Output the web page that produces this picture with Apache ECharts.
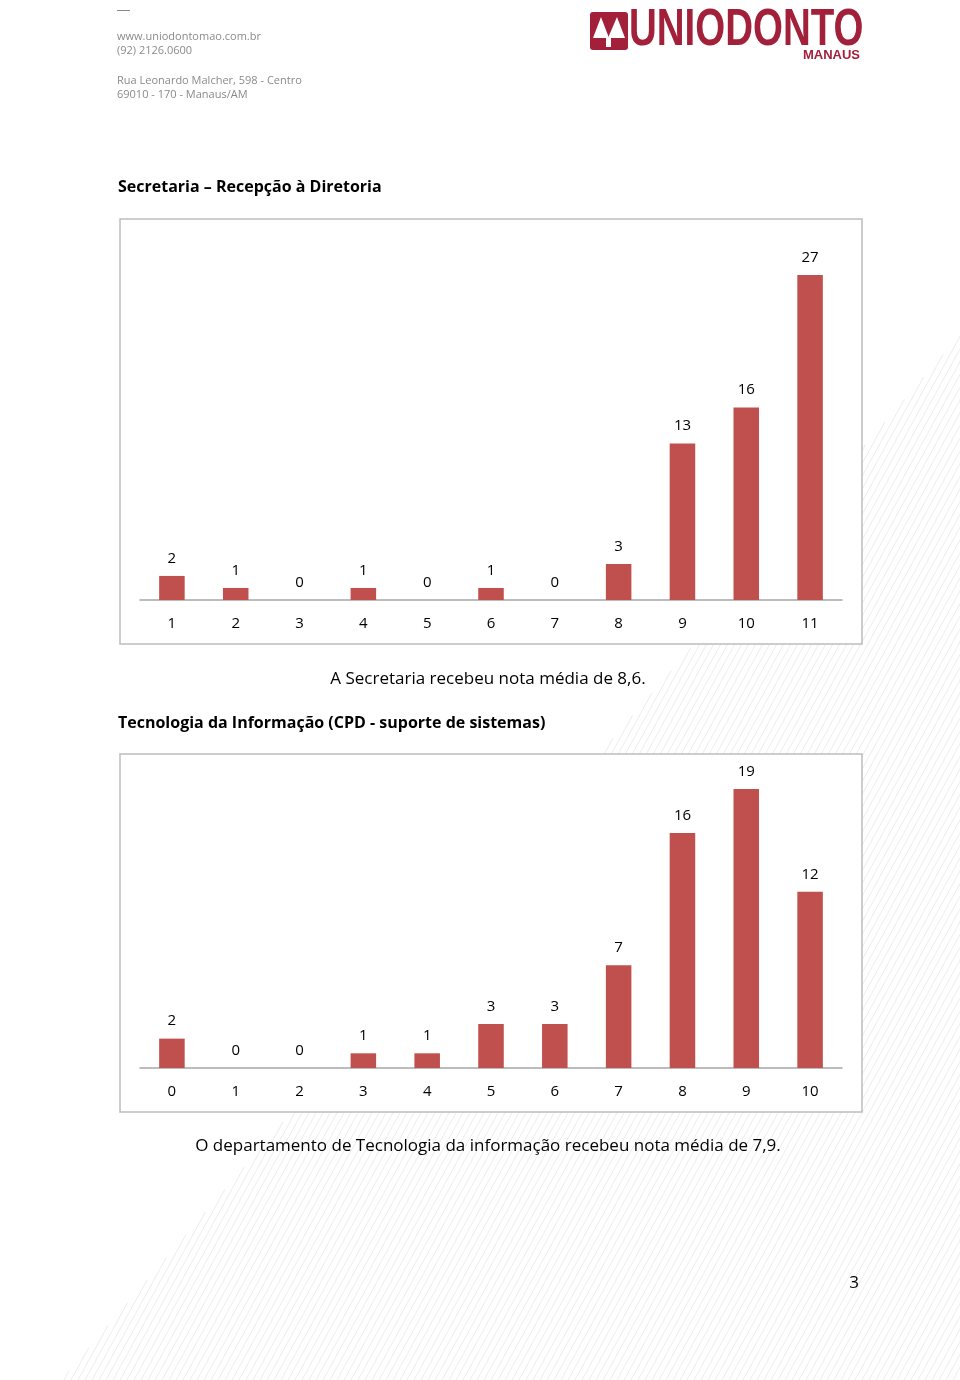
<!DOCTYPE html>
<html>
<head>
<meta charset="utf-8">
<script src="https://cdn.jsdelivr.net/npm/echarts@6/dist/echarts.min.js"></script>
<style>
  html, body { margin: 0; padding: 0; background: #fff; }
  #chart { width: 960px; height: 1380px; }
</style>
</head>
<body>
<div id="chart"></div>
<script>
  // Secretaria – notas 1..11
  const secretariaNotas = ['1', '2', '3', '4', '5', '6', '7', '8', '9', '10', '11'];
  const secretariaVotos = [2, 1, 0, 1, 0, 1, 0, 3, 13, 16, 27];
  // Tecnologia da Informação – notas 0..10
  const tiNotas = ['0', '1', '2', '3', '4', '5', '6', '7', '8', '9', '10'];
  const tiVotos = [2, 0, 0, 1, 1, 3, 3, 7, 16, 19, 12];

  const barColor = '#c0504d';
  const font = "'Open Sans', 'Noto Sans', sans-serif";
  const maroon = '#a3203a';

  const chart = echarts.init(document.getElementById('chart'));

  const xAxisBase = {
    type: 'category',
    z: 3,
    axisTick: { show: false },
    axisLine: { lineStyle: { color: '#a6a6a6', width: 1.5 } },
    axisLabel: { color: '#000', fontSize: 15, fontFamily: font, margin: 16 },
  };
  const yAxisBase = {
    type: 'value',
    min: 0,
    show: false,
  };
  const barBase = {
    type: 'bar',
    z: 4,
    barWidth: '40%',
    itemStyle: { color: barColor },
    label: {
      show: true,
      position: 'top',
      distance: 10,
      color: '#000',
      fontSize: 15,
      fontFamily: font,
    },
  };

  // faint diagonal stripes of the page background (decoration only)
  const stripes = [];
  for (let x0 = 64; x0 < 1700; x0 += 7) {
    const t = (x0 - 61) / 0.31;
    stripes.push({
      type: 'line',
      z: -10,
      shape: { x1: x0, y1: 1380, x2: x0 + 0.55 * t, y2: 1380 - t },
      style: { stroke: '#ececec', lineWidth: 1 },
    });
  }

  const option = {
    animation: false,
    grid: [
      { left: 140, right: 118, top: 275, bottom: 780 },
      { left: 140, right: 118, top: 789, bottom: 312 },
    ],
    xAxis: [
      Object.assign({ gridIndex: 0, data: secretariaNotas }, xAxisBase),
      Object.assign({ gridIndex: 1, data: tiNotas }, xAxisBase),
    ],
    yAxis: [
      Object.assign({ gridIndex: 0, max: 27 }, yAxisBase),
      Object.assign({ gridIndex: 1, max: 19 }, yAxisBase),
    ],
    series: [
      Object.assign({ name: 'Secretaria', xAxisIndex: 0, yAxisIndex: 0, data: secretariaVotos }, barBase),
      Object.assign({ name: 'TI', xAxisIndex: 1, yAxisIndex: 1, data: tiVotos }, barBase),
    ],
    graphic: stripes.concat([
      // chart frames
      { type: 'rect', z: -5, shape: { x: 120, y: 219, width: 742, height: 425 }, style: { fill: '#fff', stroke: '#bdbdbd', lineWidth: 1.5 } },
      { type: 'rect', z: -5, shape: { x: 120, y: 754, width: 742, height: 358 }, style: { fill: '#fff', stroke: '#bdbdbd', lineWidth: 1.5 } },

      // header
      { type: 'rect', shape: { x: 117, y: 10, width: 13, height: 1 }, style: { fill: '#888' } },
      { type: 'text', x: 117, y: 37, style: { text: 'www.uniodontomao.com.br', fill: '#8a8a8a', font: '11px ' + font, textVerticalAlign: 'middle' } },
      { type: 'text', x: 117, y: 51, style: { text: '(92) 2126.0600', fill: '#8a8a8a', font: '11px ' + font, textVerticalAlign: 'middle' } },
      { type: 'text', x: 117, y: 81, style: { text: 'Rua Leonardo Malcher, 598 - Centro', fill: '#8a8a8a', font: '11px ' + font, textVerticalAlign: 'middle' } },
      { type: 'text', x: 117, y: 95, style: { text: '69010 - 170 - Manaus/AM', fill: '#8a8a8a', font: '11px ' + font, textVerticalAlign: 'middle' } },

      // logo
      { type: 'rect', shape: { x: 590, y: 12, width: 38, height: 38, r: 3 }, style: { fill: maroon } },
      { type: 'polygon', shape: { points: [[593, 38], [601, 17], [609, 38]] }, style: { fill: '#fff' } },
      { type: 'polygon', shape: { points: [[608, 38], [617, 17], [625, 38]] }, style: { fill: '#fff' } },
      { type: 'rect', shape: { x: 606, y: 38, width: 5, height: 9 }, style: { fill: '#fff' } },
      { type: 'text', x: 629, y: 31, scaleX: 0.74, style: { text: 'UNIODONTO', fill: maroon, font: "bold 52px 'Liberation Sans', sans-serif", textVerticalAlign: 'middle' } },
      { type: 'text', x: 860, y: 55, style: { text: 'MANAUS', fill: maroon, font: "bold 13px 'Liberation Sans', sans-serif", textAlign: 'right', textVerticalAlign: 'middle' } },

      // section texts
      { type: 'text', x: 118, y: 187, style: { text: 'Secretaria – Recepção à Diretoria', fill: '#000', font: 'bold 16px ' + font, textVerticalAlign: 'middle' } },
      { type: 'text', x: 488, y: 679, style: { text: 'A Secretaria recebeu nota média de 8,6.', fill: '#000', font: '17px ' + font, textAlign: 'center', textVerticalAlign: 'middle' } },
      { type: 'text', x: 118, y: 723, style: { text: 'Tecnologia da Informação (CPD - suporte de sistemas)', fill: '#000', font: 'bold 16px ' + font, textVerticalAlign: 'middle' } },
      { type: 'text', x: 488, y: 1146, style: { text: 'O departamento de Tecnologia da informação recebeu nota média de 7,9.', fill: '#000', font: '17px ' + font, textAlign: 'center', textVerticalAlign: 'middle' } },
      { type: 'text', x: 854, y: 1283, style: { text: '3', fill: '#000', font: '17px ' + font, textAlign: 'center', textVerticalAlign: 'middle' } },
    ]),
  };

  chart.setOption(option);
</script>
</body>
</html>
